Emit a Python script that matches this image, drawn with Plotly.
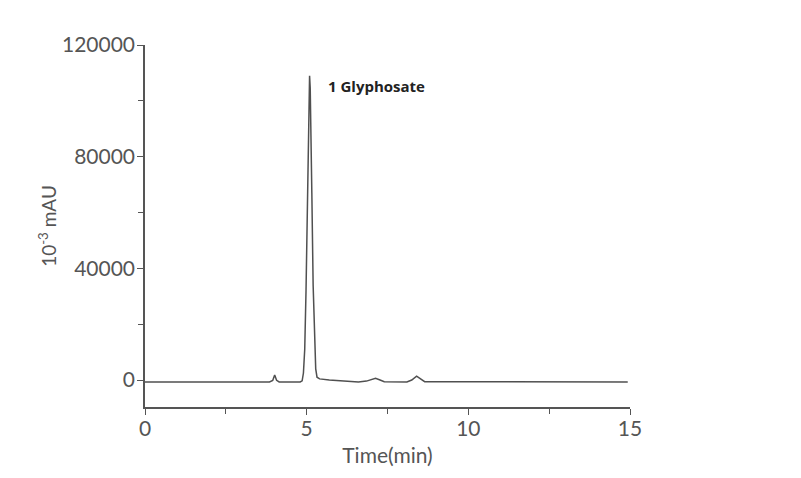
import plotly.graph_objects as go

# Retention time (min) and detector signal (10^-3 mAU)
time_min = [0.0, 3.85, 3.95, 4.01, 4.07, 4.15, 4.80, 4.86, 4.90, 4.94, 4.98, 5.02,
            5.05, 5.07, 5.09, 5.11, 5.13, 5.16, 5.20, 5.24, 5.28, 5.32, 5.40, 5.70,
            6.00, 6.30, 6.60, 6.85, 7.00, 7.13, 7.25, 7.40, 8.10, 8.25, 8.40, 8.55,
            8.65, 14.93]
signal = [-700, -700, -200, 1800, -100, -700, -700, -300, 2500, 11000, 32000, 66000,
          92000, 104500, 109000, 104500, 92000, 67000, 34000, 13000, 4000, 1000, 400, 0,
          -300, -600, -700, -400, 200, 600, 100, -600, -700, 0, 1400, 0,
          -600, -700]

x_ticks = [0, 5, 10, 15]
y_ticks = [0, 40000, 80000, 120000]
peak_label = "1 Glyphosate"
peak_label_pos = (5.61, 105300)

axis_color = "#555555"
tick_font = dict(family="Lato", size=21, color="#555555")

fig = go.Figure()
fig.add_trace(go.Scatter(
    x=time_min, y=signal, mode="lines",
    line=dict(color="#505050", width=1.5),
    showlegend=False, hoverinfo="skip",
))

fig.add_annotation(
    x=peak_label_pos[0], y=peak_label_pos[1], text="<b>" + peak_label + "</b>",
    showarrow=False, xanchor="left", yanchor="middle",
    font=dict(family="Open Sans", size=15, color="#222222"),
)

fig.update_xaxes(
    range=[0, 15], tickvals=x_ticks, ticktext=[str(v) for v in x_ticks],
    showline=True, linecolor=axis_color, linewidth=1.5,
    ticks="outside", ticklen=6, tickwidth=1.2, tickcolor=axis_color,
    minor=dict(dtick=2.5, tick0=0, ticks="outside", ticklen=5, tickwidth=1.2, tickcolor=axis_color),
    showgrid=False, zeroline=False, tickfont=tick_font, ticklabelstandoff=-4,
    title=dict(text="Time(min)", font=dict(family="Lato", size=21, color="#555555"), standoff=9),
)
fig.update_yaxes(
    range=[-9672, 120000], tickvals=y_ticks, ticktext=[str(v) for v in y_ticks],
    showline=True, linecolor=axis_color, linewidth=1.5,
    ticks="outside", ticklen=6, tickwidth=1.2, tickcolor=axis_color,
    minor=dict(dtick=20000, tick0=0, ticks="outside", ticklen=5, tickwidth=1.2, tickcolor=axis_color),
    showgrid=False, zeroline=False, tickfont=tick_font, ticklabelstandoff=-2,
    title=dict(text="10<sup>-3</sup> mAU", font=dict(family="Lato", size=19, color="#555555"), standoff=0),
)

fig.update_layout(
    width=801, height=478,
    margin=dict(l=137, r=179, t=37, b=79, autoexpand=False),
    paper_bgcolor="white", plot_bgcolor="white",
)

fig.write_html("out.html")
